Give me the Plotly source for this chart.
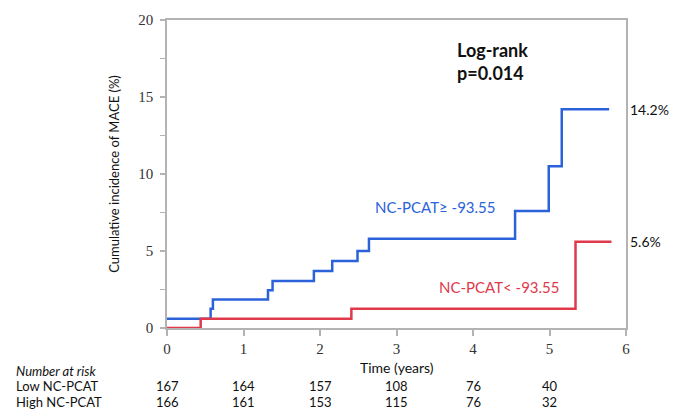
import plotly.graph_objects as go

# ---- data ----
high_t = [0, 0.57, 0.60, 1.32, 1.38, 1.92, 2.16, 2.49, 2.64, 4.55, 4.99, 5.16, 5.78]
high_y = [0.6, 1.25, 1.85, 2.45, 3.05, 3.7, 4.35, 5.0, 5.8, 7.6, 10.5, 14.2, 14.2]
low_t = [0, 0.44, 2.41, 5.34, 5.81]
low_y = [0, 0.6, 1.25, 5.6, 5.6]

risk_times = [0, 1, 2, 3, 4, 5]
risk_low = [167, 164, 157, 108, 76, 40]
risk_high = [166, 161, 153, 115, 76, 32]
row_labels = ["Number at risk", "Low NC-PCAT", "High NC-PCAT"]

final_high = "14.2%"
final_low = "5.6%"

BLUE = "#2b62d9"
RED = "#e0394b"
AX = "#b3b3b3"
FONT = "Lato"

fig = go.Figure()
fig.add_trace(go.Scatter(x=high_t, y=high_y, mode="lines", line=dict(color=BLUE, width=2.5, shape="hv"),
                         cliponaxis=False, showlegend=False, hoverinfo="skip"))
fig.add_trace(go.Scatter(x=low_t, y=low_y, mode="lines", line=dict(color=RED, width=2.5, shape="hv"),
                         cliponaxis=False, showlegend=False, hoverinfo="skip"))

ann = []
ann.append(dict(x=3.76, y=17.3, xref="x", yref="y", xanchor="left", yanchor="middle", align="left",
                text="<b>Log-rank</b><br><b>p=0.014</b>", showarrow=False,
                font=dict(family=FONT, size=18, color="#111")))
ann.append(dict(x=2.69, y=7.86, xref="x", yref="y", xanchor="left", yanchor="middle",
                text="NC-PCAT≥ -93.55", showarrow=False, font=dict(family=FONT, size=15, color=BLUE)))
ann.append(dict(x=3.53, y=2.66, xref="x", yref="y", xanchor="left", yanchor="middle",
                text="NC-PCAT< -93.55", showarrow=False, font=dict(family=FONT, size=15, color=RED)))
ann.append(dict(x=1.004, y=high_y[-1], xref="paper", yref="y", xanchor="left", yanchor="middle",
                text=final_high, showarrow=False, font=dict(family=FONT, size=14, color="#111")))
ann.append(dict(x=1.004, y=low_y[-1], xref="paper", yref="y", xanchor="left", yanchor="middle",
                text=final_low, showarrow=False, font=dict(family=FONT, size=14, color="#111")))
ann.append(dict(x=3, y=-0.128, xref="x", yref="paper", xanchor="center", yanchor="middle",
                text="Time (years)", showarrow=False, font=dict(family=FONT, size=14, color="#111")))

row_y = [-0.1396, -0.188, -0.240]
ann.append(dict(x=-0.333, y=row_y[0], xref="paper", yref="paper", xanchor="left", yanchor="middle",
                text="<i>" + row_labels[0] + "</i>", showarrow=False, font=dict(family=FONT, size=13, color="#111")))
for lab, yy in zip(row_labels[1:], row_y[1:]):
    ann.append(dict(x=-0.333, y=yy, xref="paper", yref="paper", xanchor="left", yanchor="middle",
                    text=lab, showarrow=False, font=dict(family=FONT, size=13, color="#111")))
for vals, yy in ((risk_low, row_y[1]), (risk_high, row_y[2])):
    for t, v in zip(risk_times, vals):
        ann.append(dict(x=t, y=yy, xref="x", yref="paper", xanchor="center", yanchor="middle",
                        text=str(v), showarrow=False, font=dict(family=FONT, size=13, color="#111")))

fig.update_layout(
    width=676, height=414,
    margin=dict(l=167, r=50, t=20, b=86),
    paper_bgcolor="white", plot_bgcolor="white",
    annotations=ann,
    xaxis=dict(range=[0, 6], tickvals=[0, 1, 2, 3, 4, 5, 6], showgrid=False, zeroline=False,
               showline=True, linecolor=AX, linewidth=1.5, mirror=True,
               ticks="outside", ticklen=6, tickcolor=AX, tickwidth=1.5, ticklabelstandoff=0,
               tickfont=dict(family="Liberation Serif", size=15, color="#333")),
    yaxis=dict(range=[0, 20], tickvals=[0, 5, 10, 15, 20], showgrid=False, zeroline=False,
               showline=True, linecolor=AX, linewidth=1.5, mirror=True,
               ticks="outside", ticklen=5, tickcolor=AX, tickwidth=1.5, ticklabelstandoff=4,
               minor=dict(tickvals=[2.5, 7.5, 12.5, 17.5], ticks="outside", ticklen=5, tickcolor=AX, tickwidth=1),
               tickfont=dict(family="Liberation Serif", size=15, color="#333"),
               title=dict(text="Cumulative incidence of MACE (%)", standoff=16,
                          font=dict(family=FONT, size=13, color="#111"))),
)

fig.write_html("out.html")
